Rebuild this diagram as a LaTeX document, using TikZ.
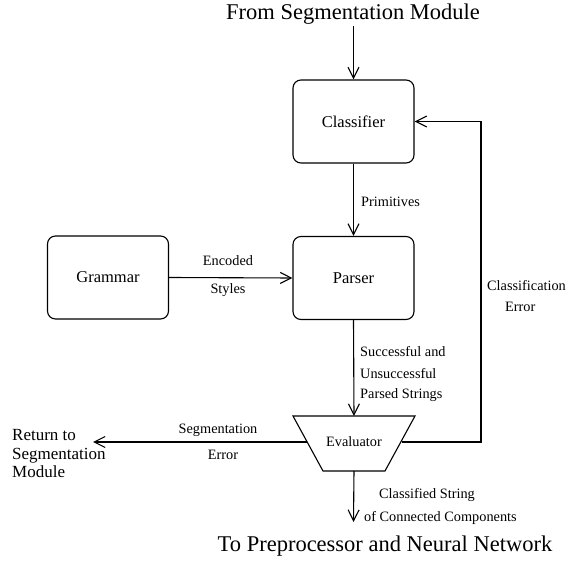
\documentclass[tikz,border=0pt]{standalone}
\usepackage{fontspec}
\setmainfont{Liberation Serif}
\usetikzlibrary{arrows.meta}
\begin{document}
\begin{tikzpicture}[x=1pt,y=-1pt,
  box/.style={draw,line width=1.1pt,rounded corners=8pt,minimum width=121pt,minimum height=83pt,font=\fontsize{16.5}{18}\selectfont,inner sep=0pt},
  evshape/.style={draw,line width=1.1pt,line join=miter},
  big/.style={font=\fontsize{22.5}{25}\selectfont,inner sep=0pt},
  mid/.style={font=\fontsize{17}{18.5}\selectfont,inner sep=0pt},
  lab/.style={font=\fontsize{14.3}{16}\selectfont,inner sep=0pt},
  conn/.style={line width=1.1pt,-{Straight Barb[length=11pt,width=11pt,line width=1.1pt]}}]
\useasboundingbox (0,0) rectangle (568,561);
% evaluator outline
\coordinate (evTL) at (293,416);
\coordinate (evTR) at (415,416);
\coordinate (evBR) at (385,471);
\coordinate (evBL) at (323,471);
\draw[evshape] (evTL) -- (evTR) -- (evBR) -- (evBL) -- cycle;
\coordinate (evT) at (354,416);
\coordinate (evB) at (354,471);
\coordinate (evL) at (306.5,442);
\coordinate (evR) at (401.5,442);
% nodes
\node[big] (from) at (353,14) {From Segmentation Module};
\node[box] (cls) at (353.5,121.5) {Classifier};
\node[box] (par) at (353.5,278) {Parser};
\node[box] (gra) at (108,277.5) {Grammar};
\node[lab,font=\fontsize{14.3}{16}\selectfont] (ev) at (354,442) {Evaluator};
\node[big] (to) at (385,546) {To Preprocessor and Neural Network};
\node[mid,anchor=west,align=left] (ret) at (12,454) {Return to\\Segmentation\\Module};
\coordinate (fromend) at (353.5,26);
\coordinate (retend) at (93,442);
\coordinate (outend) at (353.5,522);
\coordinate (c1) at (481,442);
\coordinate (c2) at (481,121.5);
% connectors
\draw[conn] (fromend) -- (cls.north);
\draw[conn] (cls.south) -- (par.north);
\draw[conn] (gra.east) -- (par.west);
\draw[conn] (par.south) -- (evT);
\draw[conn] (evL) -- (retend);
\draw[conn] (evR) -- (c1) -- (c2) -- (cls.east);
\draw[conn] (evB) -- (outend);
% labels
\node[lab,anchor=west] (lp) at (361,202) {Primitives};
\node[lab] (le1) at (228,261) {Encoded};
\node[lab] (le2) at (228,290) {Styles};
\node[lab,anchor=west] (ls1) at (360,352) {Successful and};
\node[lab,anchor=west] (ls2) at (360,374) {Unsuccessful};
\node[lab,anchor=west] (ls3) at (360,395) {Parsed Strings};
\node[lab] (lg1) at (218,430) {Segmentation};
\node[lab] (lg2) at (223,455) {Error};
\node[lab,anchor=west] (lc1) at (487,286) {Classification};
\node[lab,anchor=west] (lc2) at (505,307) {Error};
\node[lab] (lo1) at (427,495) {Classified String};
\node[lab,anchor=west] (lo2) at (364,518) {of Connected Components};
\end{tikzpicture}
\end{document}
